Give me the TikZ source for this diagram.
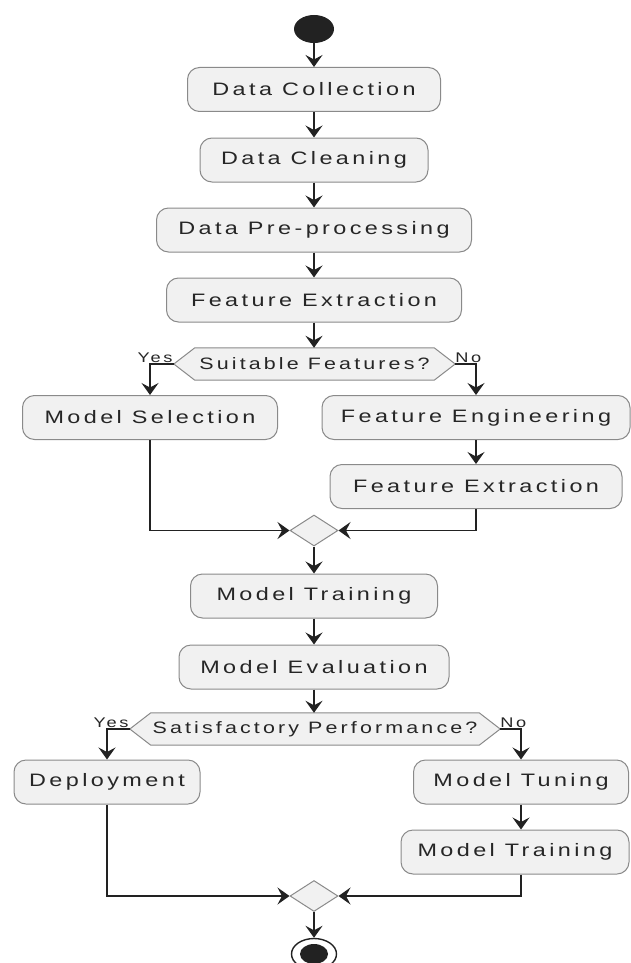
\documentclass[tikz,border=0pt]{standalone}
\usepackage{fontspec}
\setmainfont{Liberation Sans}[FakeStretch=1.3,LetterSpace=19]
\usetikzlibrary{arrows.meta,backgrounds,shapes.geometric}
\definecolor{boxfill}{HTML}{F1F1F1}
\definecolor{boxline}{HTML}{8A8A8A}
\definecolor{txt}{HTML}{262626}
\definecolor{arr}{HTML}{222222}
\begin{document}
\begin{tikzpicture}[x=1pt,y=-1pt,
  act/.style={draw=boxline, fill=boxfill, rounded corners=12pt, line width=1pt,
    minimum height=44pt, inner sep=0pt, text=txt, font=\fontsize{18}{21}\selectfont},
  hexn/.style={minimum height=32pt, inner sep=0pt, text=txt, font=\fontsize{16.5}{19}\selectfont},
  hexdraw/.style={draw=boxline, fill=boxfill, line width=1pt},
  merge/.style={shape=diamond, draw=boxline, fill=boxfill, line width=1pt, inner sep=0pt,
    minimum width=48pt, minimum height=31pt},
  lab/.style={text=txt, inner sep=0pt, font=\fontsize{14}{16}\selectfont},
  flow/.style={draw=arr, line width=1.4pt, -{Stealth[length=12pt,width=17pt,inset=4.5pt]}},
  startn/.style={shape=ellipse, fill=arr, draw=none, minimum width=40pt, minimum height=28pt, inner sep=0pt},
  endo/.style={shape=ellipse, draw=arr, line width=1.4pt, fill=white, minimum width=45pt, minimum height=31pt, inner sep=0pt},
  endi/.style={shape=ellipse, fill=arr, draw=none, minimum width=28pt, minimum height=20pt, inner sep=0pt}
]
\useasboundingbox (0,0) rectangle (631,963);
\clip (0,0) rectangle (631,963);

\node[startn] (s) at (314,29) {};
\node[act, minimum width=253pt] (dc) at (314,89.5) {Data Collection};
\node[act, minimum width=228pt] (dcl) at (314,160) {Data Cleaning};
\node[act, minimum width=315pt] (pre) at (314,230) {Data Pre-processing};
\node[act, minimum width=295pt] (fx) at (314,300) {Feature Extraction};
\node[hexn, minimum width=281pt] (d1) at (314.5,364) {Suitable Features?};
\node[act, minimum width=255pt] (ms) at (150,417.5) {Model Selection};
\node[act, minimum width=308pt] (fe) at (476,417.5) {Feature Engineering};
\node[act, minimum width=292pt] (fe2) at (476,486.5) {Feature Extraction};
\node[merge] (m1) at (314,530.5) {};
\node[act, minimum width=247pt] (mt) at (314,596) {Model Training};
\node[act, minimum width=270pt] (me) at (314,667) {Model Evaluation};
\node[hexn, minimum width=370pt] (d2) at (315,729) {Satisfactory Performance?};
\node[act, minimum width=186pt] (dep) at (107,782) {Deployment};
\node[act, minimum width=215pt] (tune) at (521,782) {Model Tuning};
\node[act, minimum width=228pt] (mt2) at (515,852) {Model Training};
\node[merge] (m2) at (314,896) {};
\node[endo] (e) at (314,954) {};
\node[endi] (ei) at (314,954) {};

\begin{pgfonlayer}{background}
\draw[hexdraw] (d1.west) -- ([xshift=21pt]d1.north west) -- ([xshift=-21pt]d1.north east)
  -- (d1.east) -- ([xshift=-21pt]d1.south east) -- ([xshift=21pt]d1.south west) -- cycle;
\draw[hexdraw] (d2.west) -- ([xshift=21pt]d2.north west) -- ([xshift=-21pt]d2.north east)
  -- (d2.east) -- ([xshift=-21pt]d2.south east) -- ([xshift=21pt]d2.south west) -- cycle;
\end{pgfonlayer}

\node[lab, anchor=base east] (y1) at ([xshift=-1pt,yshift=2pt]d1.west) {Yes};
\node[lab, anchor=base west] (n1) at ([xshift=0pt,yshift=2pt]d1.east) {No};
\node[lab, anchor=base east] (y2) at ([xshift=-1pt,yshift=2pt]d2.west) {Yes};
\node[lab, anchor=base west] (n2) at ([xshift=0pt,yshift=2pt]d2.east) {No};

\draw[flow] (s) -- (dc);
\draw[flow] (dc) -- (dcl);
\draw[flow] (dcl) -- (pre);
\draw[flow] (pre) -- (fx);
\draw[flow] (fx.south) -- (fx.south |- d1.north);
\draw[flow] (d1.west) -| (ms.north);
\draw[flow] (d1.east) -| (fe.north);
\draw[flow] (fe) -- (fe2);
\draw[flow] (ms.south) |- (m1.west);
\draw[flow] (fe2.south) |- (m1.east);
\draw[flow] (m1) -- (mt);
\draw[flow] (mt) -- (me);
\draw[flow] (me.south) -- (me.south |- d2.north);
\draw[flow] (d2.west) -| (dep.north);
\draw[flow] (d2.east) -| (tune.north);
\draw[flow] (tune.south) -- (tune.south |- mt2.north);
\draw[flow] (mt2.south -| tune.south) |- (m2.east);
\draw[flow] (dep.south) |- (m2.west);
\draw[flow] (m2) -- (e);
\end{tikzpicture}
\end{document}
